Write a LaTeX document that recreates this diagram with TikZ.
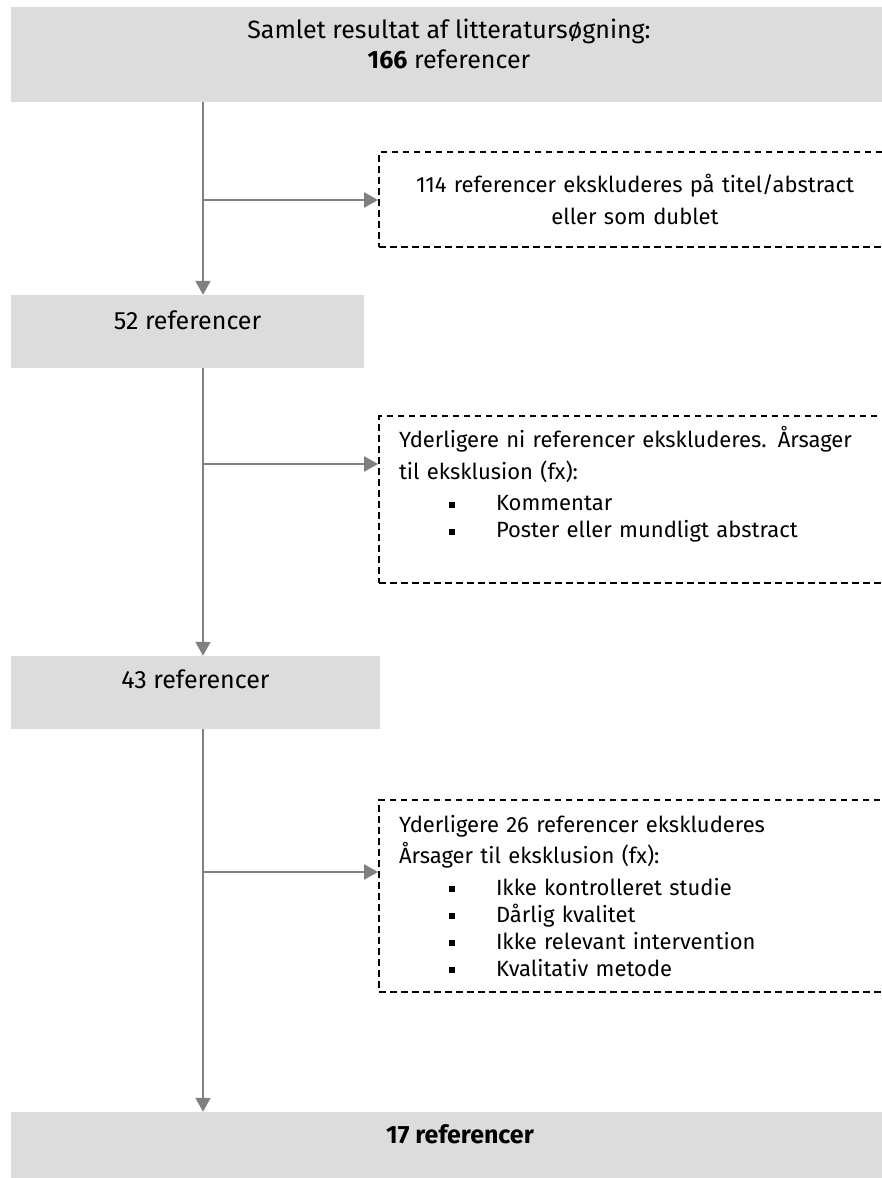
\documentclass[tikz,border=0pt]{standalone}
\usepackage{fontspec}
\setmainfont{Fira Sans}
\usetikzlibrary{arrows.meta, positioning, calc}
\usepackage{xcolor}
\definecolor{boxgrey}{HTML}{DCDCDC}
\definecolor{linegrey}{HTML}{808080}
\hyphenpenalty=10000
\newcommand{\itemsq}{\hspace*{50pt}\rule[3pt]{6pt}{6pt}\hspace{41pt}}

\begin{document}
\begin{tikzpicture}[x=1pt, y=-1pt, every node/.style={text=black},
    greybox/.style={fill=boxgrey, inner sep=0pt, text height=17pt, font=\fontsize{25pt}{27pt}\selectfont},
    exclbox/.style={draw=black, dash pattern=on 6.5pt off 4.5pt, line width=1.8pt, minimum width=512pt, text width=472pt, inner xsep=20pt, inner ysep=0pt, font=\fontsize{22pt}{27pt}\selectfont},
    flow/.style={draw=linegrey, line width=2pt, -{Triangle[length=14pt, width=15pt]}}]
    \useasboundingbox (0,0) rectangle (881,1178);
    % main column
    \node[greybox, minimum width=876pt, minimum height=95pt, align=center, text height=47pt, text depth=19pt] (total) at (449,54.5) {Samlet resultat af litteratursøgning:\\[3pt]\textbf{166} referencer};
    \node[greybox, minimum width=353pt, minimum height=73pt, text depth=22pt] (n52) at (187.5,331.5) {52 referencer};
    \node[greybox, minimum width=369pt, minimum height=73pt, text depth=25pt] (n43) at (195.5,692.5) {43 referencer};
    \node[greybox, minimum width=898pt, minimum height=66pt, text depth=21pt] (final) at (460,1145) {\textbf{17 referencer}};
    % exclusions
    \node[exclbox, minimum height=95pt, align=center] (excl1) at (635,199.5) {114 referencer ekskluderes på titel/abstract\\[5pt]eller som dublet};
    \node[exclbox, minimum height=167pt, align=left] (excl2) at (635,499.5) {Yderligere ni referencer ekskluderes. Årsager\\[4.5pt]
        til eksklusion (fx):\\[4.5pt]
        \itemsq Kommentar\\
        \itemsq Poster eller mundligt abstract\\
        \strut};
    \node[exclbox, minimum height=192pt, align=left] (excl3) at (635,896) {Yderligere 26 referencer ekskluderes\\[4.5pt]
        Årsager til eksklusion (fx):\\[4.5pt]
        \itemsq Ikke kontrolleret studie\\
        \itemsq Dårlig kvalitet\\
        \itemsq Ikke relevant intervention\\
        \itemsq Kvalitativ metode};
    % branch points
    \coordinate (b1) at (203,200);
    \coordinate (b2) at (203,464);
    \coordinate (b3) at (203,872);
    \draw[flow] (total.south -| b1) -- (n52.north -| b1);
    \draw[flow] (b1) -- (b1 -| excl1.west);
    \draw[flow] (n52.south -| b2) -- (n43.north -| b2);
    \draw[flow] (b2) -- (b2 -| excl2.west);
    \draw[flow] (n43.south -| b3) -- (final.north -| b3);
    \draw[flow] (b3) -- (b3 -| excl3.west);
\end{tikzpicture}
\end{document}
